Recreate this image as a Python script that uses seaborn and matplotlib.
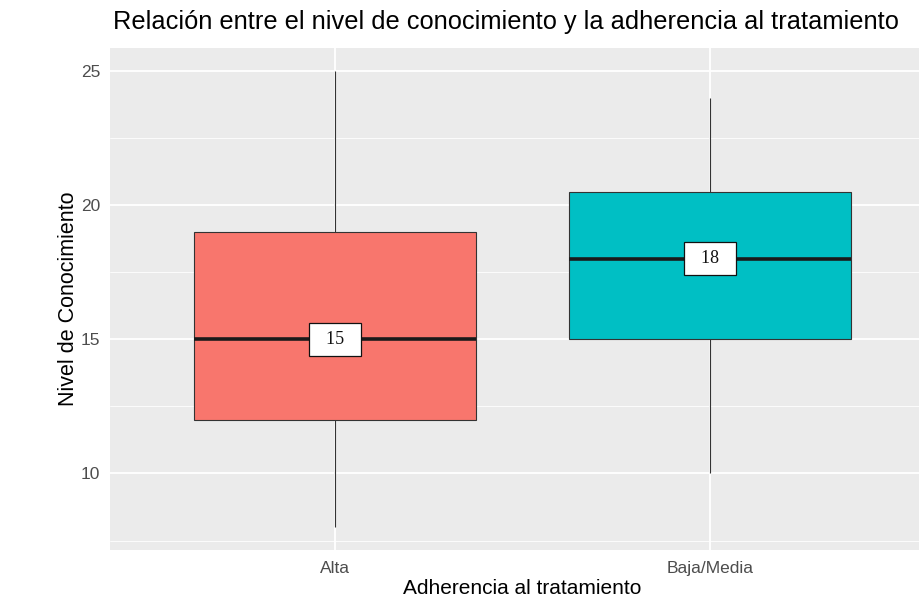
#!/usr/bin/env python3

import pandas as pd
import seaborn as sns
import matplotlib.pyplot as plt
from matplotlib.ticker import MultipleLocator

# five-number summaries (min, q1, median, q3, max)
grupos = ["Alta", "Baja/Media"]
alta = [8, 12, 15, 19, 25]
baja_media = [10, 15, 18, 20.5, 24]
colores = ["#F8766D", "#00BFC4"]

sns.set_style("darkgrid", {
    "axes.facecolor": "#EBEBEB",
    "grid.color": "white",
    "axes.edgecolor": "#EBEBEB",
})
plt.rcParams["font.family"] = ["Liberation Sans", "DejaVu Sans"]

df = pd.DataFrame({
    "Adherencia": [grupos[0]] * len(alta) + [grupos[1]] * len(baja_media),
    "Nivel": alta + baja_media,
})
medianas = df.groupby("Adherencia")["Nivel"].median()

fig = plt.figure(figsize=(9.2, 6.05), dpi=100)
ax = fig.add_axes([110 / 920, 55 / 605, 825 / 920, 502 / 605])

sns.boxplot(
    data=df, x="Adherencia", y="Nivel", hue="Adherencia", order=grupos,
    hue_order=grupos, palette=colores, saturation=1, whis=(0, 100),
    width=0.75, linecolor="#333333", linewidth=0.8, legend=False,
    showcaps=False,
    medianprops=dict(color="#1a1a1a", linewidth=2.6), ax=ax,
)

# median labels (nbsp padding widens the box like the original)
for i, g in enumerate(grupos):
    ax.text(i, medianas[g], f"\u00a0\u00a0{medianas[g]:g}\u00a0\u00a0",
            ha="center", va="center", fontsize=13,
            family=["Liberation Serif", "DejaVu Serif"], color="#111111",
            bbox=dict(boxstyle="square,pad=0.45", fc="white", ec="#111111", lw=0.9),
            zorder=5)

ax.set_xlim(-0.6, 1.6)
ax.set_ylim(7.15, 25.85)
ax.yaxis.set_major_locator(MultipleLocator(5))
ax.yaxis.set_minor_locator(MultipleLocator(2.5))
ax.grid(True, which="major", color="white", linewidth=1.3)
ax.grid(True, which="minor", axis="y", color="white", linewidth=0.6)
ax.set_axisbelow(True)
for s in ax.spines.values():
    s.set_visible(False)

ax.tick_params(which="major", length=3, width=0.8, color="#333333",
               labelsize=12.5, labelcolor="#4D4D4D", pad=4)
ax.tick_params(which="minor", length=0)
ax.tick_params(axis="x", pad=5)

ax.set_xlabel("Adherencia al tratamiento", fontsize=15, color="black", labelpad=2)
ax.set_ylabel("Nivel de Conocimiento", fontsize=15.5, color="black", labelpad=1)

fig.text(113 / 920, 1 - 22 / 605,
         "Relación entre el nivel de conocimiento y la adherencia al tratamiento",
         fontsize=18.3, color="black", ha="left", va="center")

fig.savefig("out.png", dpi=100)
